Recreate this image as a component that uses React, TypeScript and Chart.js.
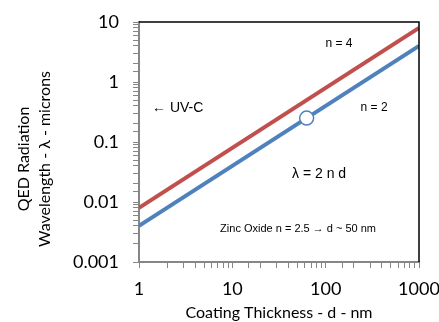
import React, { useEffect, useRef } from "react";
import { Chart, registerables } from "chart.js";

Chart.register(...registerables);

const thicknessRange = [1, 1000];
const wavelengthN4 = [0.008, 8];
const wavelengthN2 = [0.004, 4];
const markerThickness = [62.5];
const markerWavelength = [0.25];
const xTickLabels = ["1", "10", "100", "1000"];
const yTickLabels = ["0.001", "0.01", "0.1", "1", "10"];
const xTitle = "Coating Thickness - d - nm";
const yTitleLines = ["QED Radiation", "Wavelength - \u03bb - microns"];
const notes = [
  { text: "n = 4", x: 139, y: 4.3, size: 12, align: "center" },
  { text: "n = 2", x: 330, y: 0.37, size: 12, align: "center" },
  { text: "\u2190 UV-C", x: 1.38, y: 0.36, size: 14, align: "left" },
  { text: "\u03bb = 2 n d", x: 85, y: 0.0293, size: 14, align: "center" },
  { text: "Zinc Oxide n = 2.5 \u2192 d ~ 50 nm", x: 50.6, y: 0.00355, size: 11, align: "center" },
];

const RED = "#C0504D";
const BLUE = "#4F81BD";
const AXIS = "#868686";
const TITLE_FONT = "Lato, 'Liberation Sans', sans-serif";
const NOTE_FONT = "'Liberation Sans', Arial, sans-serif";

const isDecade = (v: number) => {
  const l = Math.log10(v);
  return Math.abs(l - Math.round(l)) < 1e-6;
};

const decoPlugin = {
  id: "deco",
  afterDraw(chart: any) {
    const { ctx, chartArea, scales } = chart;
    ctx.save();
    // top and right frame
    ctx.strokeStyle = "#000";
    ctx.lineWidth = 1.5;
    ctx.beginPath();
    ctx.moveTo(chartArea.left, chartArea.top);
    ctx.lineTo(chartArea.right, chartArea.top);
    ctx.lineTo(chartArea.right, chartArea.bottom);
    ctx.stroke();
    // notes
    ctx.fillStyle = "#000";
    ctx.textBaseline = "middle";
    for (const n of notes) {
      ctx.font = `${n.size}px ${NOTE_FONT}`;
      ctx.textAlign = n.align as CanvasTextAlign;
      ctx.fillText(n.text, scales.x.getPixelForValue(n.x), scales.y.getPixelForValue(n.y));
    }
    // y title
    const cy = (chartArea.top + chartArea.bottom) / 2 + 17;
    ctx.font = `16px ${TITLE_FONT}`;
    ctx.textAlign = "center";
    yTitleLines.forEach((line, i) => {
      ctx.save();
      ctx.translate(24 + i * 21, cy);
      ctx.rotate(-Math.PI / 2);
      ctx.fillText(line, 0, 0);
      ctx.restore();
    });
    ctx.restore();
  },
};

export default function App() {
  const ref = useRef<HTMLCanvasElement>(null);
  useEffect(() => {
    const pts = (xs: number[], ys: number[]) => xs.map((x, i) => ({ x, y: ys[i] }));
    const chart = new Chart(ref.current!, {
      type: "scatter",
      data: {
        datasets: [
          {
            data: pts(markerThickness, markerWavelength),
            backgroundColor: "#fff",
            borderColor: BLUE,
            borderWidth: 1.5,
            pointRadius: 7,
            showLine: false,
            order: 0,
          },
          {
            data: pts(thicknessRange, wavelengthN4),
            borderColor: RED,
            borderWidth: 4,
            pointRadius: 0,
            showLine: true,
            order: 1,
          },
          {
            data: pts(thicknessRange, wavelengthN2),
            borderColor: BLUE,
            borderWidth: 4,
            pointRadius: 0,
            showLine: true,
            order: 2,
          },
        ],
      },
      options: {
        animation: false,
        responsive: true,
        maintainAspectRatio: false,
        layout: { padding: { top: 22, right: 20, left: 0, bottom: 0 } },
        plugins: { legend: { display: false }, tooltip: { enabled: false }, title: { display: false } },
        scales: {
          x: {
            type: "logarithmic",
            min: 1,
            max: 1000,
            border: { display: true, color: AXIS, width: 2 },
            grid: {
              drawOnChartArea: false,
              drawTicks: true,
              tickLength: 6,
              color: AXIS,
              lineWidth: 1,
            },
            ticks: {
              autoSkip: false,
              maxRotation: 0,
              padding: 10,
              color: "#000",
              font: { family: TITLE_FONT, size: 18 },
              callback: (v: any) =>
                isDecade(Number(v)) ? xTickLabels[Math.round(Math.log10(Number(v)))] : "",
            },
            title: {
              display: true,
              text: xTitle,
              color: "#000",
              font: { family: TITLE_FONT, size: 16 },
              padding: { top: 0, bottom: 0 },
            },
            afterFit: (s: any) => {
              s.height = 60;
              s.paddingLeft = 0;
              s.paddingRight = 0;
            },
          },
          y: {
            type: "logarithmic",
            min: 0.001,
            max: 10,
            border: { display: true, color: AXIS, width: 2 },
            grid: {
              drawOnChartArea: false,
              drawTicks: true,
              tickLength: 6,
              color: AXIS,
              lineWidth: 1,
            },
            ticks: {
              autoSkip: false,
              padding: 14,
              color: "#000",
              font: { family: TITLE_FONT, size: 18 },
              callback: (v: any) =>
                isDecade(Number(v)) ? yTickLabels[Math.round(Math.log10(Number(v))) + 3] : "",
            },
            afterFit: (s: any) => {
              s.width = 139;
              s.paddingTop = 0;
              s.paddingBottom = 0;
            },
          },
        },
      },
      plugins: [decoPlugin],
    } as any);
    return () => chart.destroy();
  }, []);
  return (
    <div style={{ position: "absolute", left: 0, top: 0, width: 439, height: 322, background: "#fff" }}>
      <canvas ref={ref} />
    </div>
  );
}
